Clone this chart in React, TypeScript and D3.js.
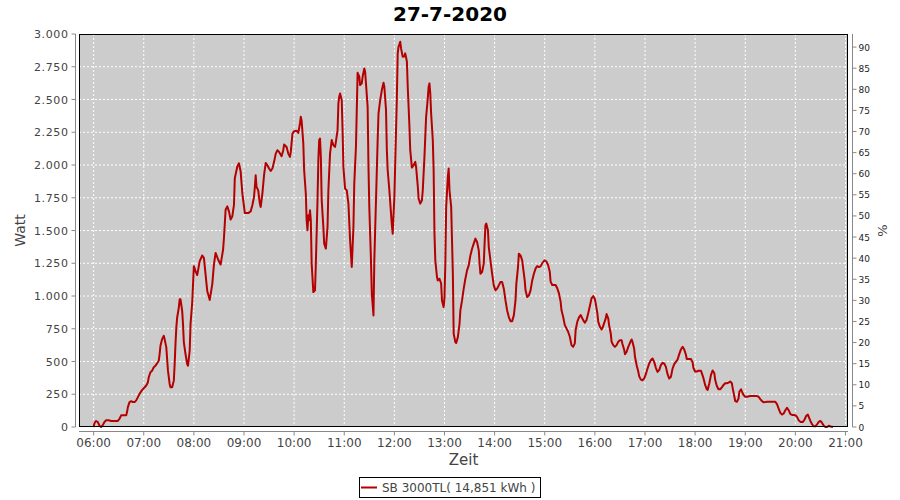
import React from "react";
import * as d3 from "d3";

const title = "27-7-2020";
const seriesName = "SB 3000TL( 14,851 kWh )";
const xLabel = "Zeit";
const yLabel = "Watt";
const y2Label = "%";
const hourTicks = ["06:00","07:00","08:00","09:00","10:00","11:00","12:00","13:00","14:00","15:00","16:00","17:00","18:00","19:00","20:00","21:00"];
const wattTicks = [0,250,500,750,1000,1250,1500,1750,2000,2250,2500,2750,3000];
const pctTicks = [0,5,10,15,20,25,30,35,40,45,50,55,60,65,70,75,80,85,90];

const times = [
"06:00","06:01","06:03","06:05","06:07","06:09","06:11","06:13","06:15","06:18","06:21","06:25","06:29","06:31","06:33","06:36","06:39","06:40","06:41","06:43","06:45","06:47","06:49","06:51","06:53","06:55","06:57",
"07:00","07:03","07:05","07:06","07:08","07:10","07:12","07:14","07:16","07:18","07:19","07:20","07:22","07:24","07:25","07:27","07:28","07:29","07:31","07:32","07:34","07:36","07:37","07:38","07:39","07:40","07:42","07:43","07:44","07:46","07:47","07:48","07:50","07:52","07:53","07:55","07:56","07:58","07:59",
"08:00","08:02","08:04","08:07","08:10","08:12","08:14","08:16","08:19","08:22","08:24","08:26","08:29","08:32","08:35","08:36","08:38","08:40","08:42","08:44","08:46","08:48","08:49","08:52","08:54","08:56","08:58",
"09:01","09:05","09:08","09:10","09:12","09:13","09:14","09:15","09:17","09:19","09:20","09:22","09:24","09:26","09:28","09:30","09:32","09:34","09:36","09:38","09:40","09:42","09:45","09:47","09:48","09:51","09:53","09:55","09:56","09:58",
"10:00","10:03","10:05","10:07","10:08","10:09","10:11","10:12","10:14","10:15","10:16","10:17","10:18","10:19","10:20","10:21","10:23","10:25","10:26","10:28","10:29","10:30","10:31","10:32","10:33","10:35","10:36","10:38","10:40","10:41","10:43","10:45","10:47","10:49","10:50","10:52","10:53","10:54","10:55","10:57","10:58","10:59",
"11:01","11:03","11:05","11:07","11:09","11:11","11:12","11:14","11:15","11:16","11:18","11:19","11:21","11:22","11:24","11:25","11:26","11:28","11:29","11:30","11:32","11:33","11:35","11:36","11:38","11:40","11:41","11:43","11:45","11:47","11:48","11:50","11:51","11:52","11:54","11:56","11:57","11:58",
"12:00","12:01","12:03","12:04","12:05","12:07","12:08","12:10","12:12","12:13","12:15","12:16","12:18","12:19","12:21","12:23","12:25","12:26","12:28","12:29","12:31","12:33","12:34","12:36","12:37","12:38","12:40","12:41","12:42","12:43","12:44","12:46","12:47","12:48","12:49","12:51","12:52","12:54","12:56","12:57","12:59",
"13:00","13:01","13:02","13:04","13:05","13:06","13:08","13:09","13:10","13:11","13:13","13:14","13:16","13:18","13:19","13:21","13:23","13:25","13:27","13:29","13:31","13:33","13:35","13:37","13:39","13:41","13:42","13:43","13:45","13:47","13:48","13:49","13:50","13:52","13:53","13:55","13:57","13:59",
"14:01","14:03","14:05","14:07","14:09","14:11","14:13","14:15","14:17","14:19","14:21","14:23","14:25","14:26","14:28","14:29","14:31","14:33","14:34","14:36","14:37","14:39","14:41","14:43","14:45","14:47","14:49","14:51","14:53","14:55","14:57","14:59",
"15:00","15:02","15:04","15:06","15:07","15:09","15:11","15:13","15:15","15:17","15:19","15:20","15:22","15:24","15:26","15:28","15:30","15:32","15:34","15:36","15:37","15:39","15:41","15:43","15:44","15:46","15:48","15:50","15:52","15:54","15:56","15:58",
"16:00","16:01","16:03","16:04","16:06","16:08","16:09","16:11","16:13","16:14","16:16","16:17","16:19","16:20","16:22","16:24","16:26","16:28","16:30","16:32","16:33","16:35","16:36","16:38","16:40","16:42","16:44","16:45","16:47","16:48","16:50","16:52","16:53","16:55","16:57","16:59",
"17:01","17:03","17:05","17:07","17:09","17:11","17:13","17:15","17:17","17:19","17:21","17:23","17:25","17:27","17:29","17:31","17:33","17:35","17:37","17:39","17:41","17:43","17:45","17:47","17:49","17:50","17:53","17:55","17:57","17:58",
"18:00","18:02","18:04","18:07","18:08","18:10","18:12","18:14","18:15","18:17","18:19","18:21","18:23","18:24","18:26","18:28","18:30","18:32","18:34","18:36","18:38","18:40","18:42","18:44","18:45","18:47","18:48","18:50","18:52","18:53","18:55","18:56","18:58",
"19:00","19:02","19:06","19:10","19:14","19:16","19:18","19:20","19:22","19:26","19:30","19:36","19:38","19:40","19:42","19:44","19:46","19:48","19:50","19:52","19:54","19:56","19:58",
"20:00","20:02","20:04","20:06","20:09","20:11","20:13","20:15","20:16","20:18","20:20","20:22","20:24","20:26","20:28","20:30","20:32","20:34","20:36","20:38","20:40","20:42","20:45"
];

const watts = [
0,30,46,38,10,0,15,38,51,51,46,46,46,63,89,89,89,114,152,190,197,190,190,203,228,253,273,
296,317,342,380,418,430,456,468,486,506,557,620,671,696,671,608,519,430,329,304,304,354,481,633,760,836,912,975,975,886,785,646,557,481,468,582,785,949,1089,
1228,1190,1160,1266,1309,1291,1165,1038,970,1089,1240,1329,1279,1240,1355,1443,1658,1684,1646,1583,1608,1696,1899,1988,2013,1950,1785,
1633,1633,1646,1693,1756,1833,1922,1833,1807,1705,1680,1782,1922,2016,1998,1973,1955,1973,2024,2087,2113,2100,2067,2113,2156,2138,2087,2062,2100,2240,
2258,2261,2245,2317,2368,2337,2164,1960,1782,1578,1502,1616,1578,1654,1578,1247,1030,1043,1247,1731,2037,2190,2202,2062,1731,1527,1400,1362,1527,1807,2087,2190,2151,2138,2177,2266,2470,2521,2546,2495,2266,1986,
1820,1807,1705,1425,1221,1527,1858,2138,2419,2704,2674,2610,2623,2674,2737,2712,2623,2444,1986,1680,1272,1017,852,1272,1731,2190,2393,2495,2572,2628,2597,2419,2113,1960,1807,1629,1540,1476,
1756,2011,2521,2852,2903,2941,2890,2826,2830,2852,2790,2597,2300,2113,1980,1998,2024,1986,1840,1744,1705,1731,1807,2062,2215,2368,2508,2597,2623,2546,2393,2190,1960,1476,1272,1145,1119,1132,1094,966,915,
992,1247,1680,1909,1973,1807,1680,1425,1170,712,648,641,686,788,890,966,1056,1132,1196,1234,1310,1361,1400,1438,1412,1349,1247,1170,1183,1247,1400,1540,1553,1502,1374,1272,1170,1081,
1043,1056,1081,1107,1107,1056,966,890,839,808,808,852,966,1094,1221,1323,1310,1272,1221,1119,1043,992,1005,1043,1119,1170,1209,1229,1221,1226,1250,1267,
1272,1263,1237,1186,1110,1084,1084,1084,1059,1020,957,893,842,778,753,727,689,625,612,638,740,804,837,855,842,816,796,816,867,923,982,1000,
977,944,867,804,765,745,753,791,829,862,829,778,714,651,625,612,625,651,663,663,633,592,556,574,612,643,668,651,600,536,472,421,388,362,357,370,
403,446,485,510,523,497,452,421,434,472,490,485,459,403,370,383,446,480,497,515,556,592,612,591,552,519,519,519,493,450,
424,424,429,429,411,373,321,288,283,334,398,432,411,360,313,288,288,303,321,334,334,339,347,334,295,231,198,193,218,270,288,270,244,
231,231,236,236,236,231,213,198,188,193,193,193,175,141,108,95,103,128,146,128,98,92,92,
90,77,51,39,39,57,85,95,77,46,21,5,5,21,39,46,31,10,0,0,10,3,0
];

const W = 900, H = 500;
const M = { left: 79, right: 848, top: 34, bottom: 427 };
const parseT = d3.timeParse("%H:%M");
const FONT = "'DejaVu Sans', sans-serif";
const GREY = "#444444";

export default function App() {
  const x = d3.scaleTime()
    .domain([new Date(1900, 0, 1, 5, 42, 30), new Date(1900, 0, 1, 21, 3, 0)])
    .range([M.left, M.right]);
  const y = d3.scaleLinear().domain([0, 3000]).range([M.bottom, M.top]);
  const y2 = d3.scaleLinear().domain([0, 93.1]).range([M.bottom, M.top]);
  const locale = d3.formatLocale({ decimal: ",", thousands: ".", grouping: [3], currency: ["", ""] });
  const fmt = locale.format(",d");

  const data = times.map((t, i) => ({ t: parseT(t) as Date, v: watts[i] }));
  const line = d3.line<{ t: Date; v: number }>().x(d => x(d.t)).y(d => y(d.v));
  const hours = hourTicks.map(h => ({ label: h, d: parseT(h) as Date }));

  const axisX = M.bottom + 4.5;
  const leftAxisX = M.left - 3.5;
  const rightAxisX = M.right + 4.5;

  return (
    <svg width={W} height={H} style={{ position: "absolute", left: 0, top: 0, background: "#fff" }} fontFamily={FONT}>
      <text x={450} y={21} textAnchor="middle" fontSize={20} fontWeight="bold" fill="#000">{title}</text>
      <rect x={M.left} y={M.top} width={M.right - M.left} height={M.bottom - M.top} fill="#cccccc" />
      {wattTicks.map(t => (
        <line key={"gy" + t} x1={M.left} x2={M.right} y1={y(t)} y2={y(t)} stroke="#fff" strokeWidth={1} strokeDasharray="2,2" />
      ))}
      {hours.map(h => (
        <line key={"gx" + h.label} x1={x(h.d)} x2={x(h.d)} y1={M.top} y2={M.bottom} stroke="#fff" strokeWidth={1} strokeDasharray="2,2" />
      ))}
      <path d={line(data) || ""} fill="none" stroke="#b40000" strokeWidth={2} strokeLinejoin="round" />
      <rect x={M.left + 0.5} y={M.top + 0.5} width={M.right - M.left - 1} height={M.bottom - M.top - 1} fill="none" stroke="#000" strokeWidth={1} />

      {/* left axis */}
      <line x1={leftAxisX} x2={leftAxisX} y1={M.top} y2={M.bottom} stroke="#888" />
      {wattTicks.map(t => (
        <g key={"ly" + t}>
          <line x1={leftAxisX - 4} x2={leftAxisX} y1={y(t)} y2={y(t)} stroke="#888" />
          <text x={leftAxisX - 7} y={y(t) + 4} textAnchor="end" fontSize={11} letterSpacing={0.6} fill={GREY}>{fmt(t)}</text>
        </g>
      ))}
      <text transform={`translate(25,${(M.top + M.bottom) / 2}) rotate(-90)`} textAnchor="middle" fontSize={14} fill={GREY}>{yLabel}</text>

      {/* right axis */}
      <line x1={rightAxisX} x2={rightAxisX} y1={M.top} y2={M.bottom} stroke="#888" />
      {pctTicks.map(t => (
        <g key={"ry" + t}>
          <line x1={rightAxisX} x2={rightAxisX + 4} y1={y2(t)} y2={y2(t)} stroke="#888" />
          <text x={rightAxisX + 6} y={y2(t) + 3.5} textAnchor="start" fontSize={9} fill="#222">{t}</text>
        </g>
      ))}
      <text transform={`translate(887,${(M.top + M.bottom) / 2}) rotate(-90)`} textAnchor="middle" fontSize={13} fill={GREY}>{y2Label}</text>

      {/* bottom axis */}
      <line x1={M.left} x2={M.right} y1={axisX} y2={axisX} stroke="#888" />
      {hours.map(h => (
        <g key={"bx" + h.label}>
          <line x1={x(h.d)} x2={x(h.d)} y1={axisX} y2={axisX + 4} stroke="#888" />
          <text x={x(h.d)} y={axisX + 15} textAnchor="middle" fontSize={12} fill={GREY}>{h.label}</text>
        </g>
      ))}
      <text x={(M.left + M.right) / 2} y={465} textAnchor="middle" fontSize={15} fill={GREY}>{xLabel}</text>

      {/* legend */}
      <rect x={359.5} y={477.5} width={181} height={20} fill="#fff" stroke="#000" />
      <line x1={361} x2={377} y1={487.5} y2={487.5} stroke="#b40000" strokeWidth={2} />
      <text x={382} y={492} fontSize={12} fill={GREY}>{seriesName}</text>
    </svg>
  );
}
